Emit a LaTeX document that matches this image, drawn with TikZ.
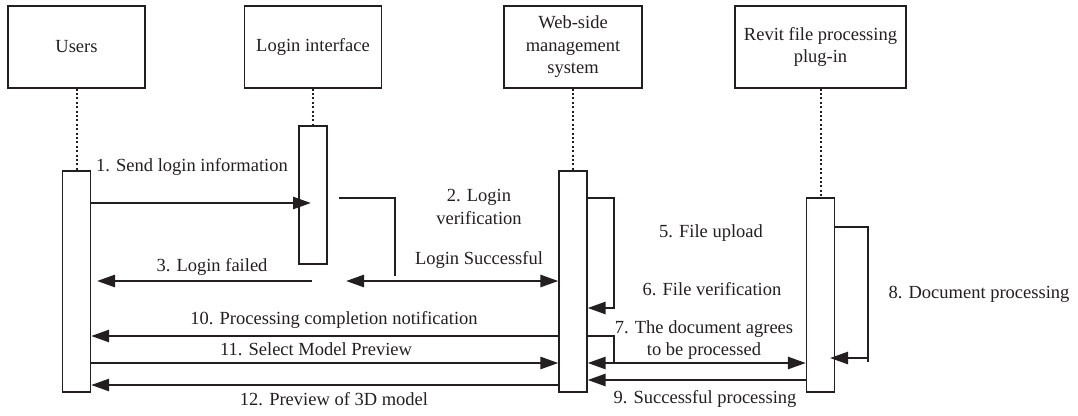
\documentclass[tikz,border=0pt]{standalone}
\usepackage{fontspec}
\setmainfont{Liberation Serif}
\usetikzlibrary{arrows.meta}
\definecolor{ink}{RGB}{35,31,32}
\begin{document}
\begin{tikzpicture}[x=1pt,y=-1pt,
  every node/.style={font=\fontsize{18.5}{22.5}\selectfont, text=ink},
  actor/.style={draw=ink, line width=1.2pt, minimum height=82pt, inner sep=0pt, align=center},
  bar/.style={draw=ink, line width=1.2pt, fill=white, minimum width=28pt, inner sep=0pt},
  life/.style={draw=ink, line width=2pt, dash pattern=on 2pt off 2.4pt},
  wire/.style={draw=ink, line width=2.6pt},
  msg/.style={wire, -{Triangle[length=18pt,width=12pt]}},
  msgtwo/.style={wire, {Triangle[length=18pt,width=12pt]}-{Triangle[length=18pt,width=12pt]}},
  lbl/.style={inner sep=0pt, align=center}
]
\useasboundingbox (0,0) rectangle (1078,415);

% actors
\node[actor, minimum width=137pt] (users) at (76.5,47) {Users};
\node[actor, minimum width=137pt] (login) at (313,47) {Login interface};
\node[actor, minimum width=138pt] (web) at (573,47) {Web-side\\management\\system};
\node[actor, minimum width=171pt] (revit) at (820.5,47) {Revit file processing\\plug-in};

% activation bars
\node[bar, minimum height=221pt] (ubar) at (76.5,281.5) {};
\node[bar, minimum height=138pt] (lbar) at (313,195) {};
\node[bar, minimum height=221pt] (wbar) at (573,281.5) {};
\node[bar, minimum height=194pt] (rbar) at (820.5,295) {};

% lifelines
\draw[life] (users.south) -- (ubar.north);
\draw[life] (login.south) -- (lbar.north);
\draw[life] (web.south) -- (wbar.north);
\draw[life] (revit.south) -- (rbar.north);

% free ends
\coordinate (a1) at (311,203);
\coordinate (v1) at (339,198);
\coordinate (v2) at (395,276);
\coordinate (s1) at (346,281);
\coordinate (f1) at (312,281);
\coordinate (f2) at (97,281);
\coordinate (w1) at (614,198);
\coordinate (w2) at (614,308);
\coordinate (d1) at (614,336);
\coordinate (d2) at (614,363);
\coordinate (p1) at (868,227);
\coordinate (p2) at (868,362);
\coordinate (p3) at (868,358);
\coordinate (p4) at (830,358);

% 1
\draw[msg] (ubar.east |- a1) -- (a1);
% 2 login verification
\draw[wire] (v1) -- (v1 -| v2) -- (v2);
\draw[msgtwo] (s1) -- (wbar.west |- s1);
% 3 login failed
\draw[msg] (f1) -- (f2);
% 5/6 web loop
\draw[msg] (wbar.east |- w1) -- (w1) -- (w2) -- (wbar.east |- w2);
% 7
\draw[wire] (wbar.east |- d1) -- (d1) -- (d2);
\draw[msgtwo] (wbar.east |- d2) -- (rbar.west |- d2);
% 8
\draw[wire] (rbar.east |- p1) -- (p1) -- (p2);
\draw[msg] (p3) -- (p4);
% 9
\draw[msg] (rbar.west |- 0,380) -- (wbar.east |- 0,380);
% 10
\draw[msg] (wbar.west |- 0,336) -- (ubar.east |- 0,336);
% 11
\draw[msg] (ubar.east |- 0,363) -- (wbar.west |- 0,363);
% 12
\draw[msg] (wbar.west |- 0,385) -- (ubar.east |- 0,385);

% labels
\node[lbl] (t1) at (192,167) {1. Send login information};
\node[lbl] (t2) at (479,207) {2. Login\\verification};
\node[lbl] (t2b) at (479,260) {Login Successful};
\node[lbl] (t3) at (212,267) {3. Login failed};
\node[lbl] (t10) at (334,320) {10. Processing completion notification};
\node[lbl] (t11) at (316,349) {11. Select Model Preview};
\node[lbl] (t12) at (334,399) {12. Preview of 3D model};
\node[lbl] (t5) at (711,233) {5. File upload};
\node[lbl] (t6) at (712,289) {6. File verification};
\node[lbl] (t7) at (704,340) {7. The document agrees\\to be processed};
\node[lbl] (t9) at (705,399) {9. Successful processing};
\node[lbl] (t8) at (979,294) {8. Document processing};
\end{tikzpicture}
\end{document}
